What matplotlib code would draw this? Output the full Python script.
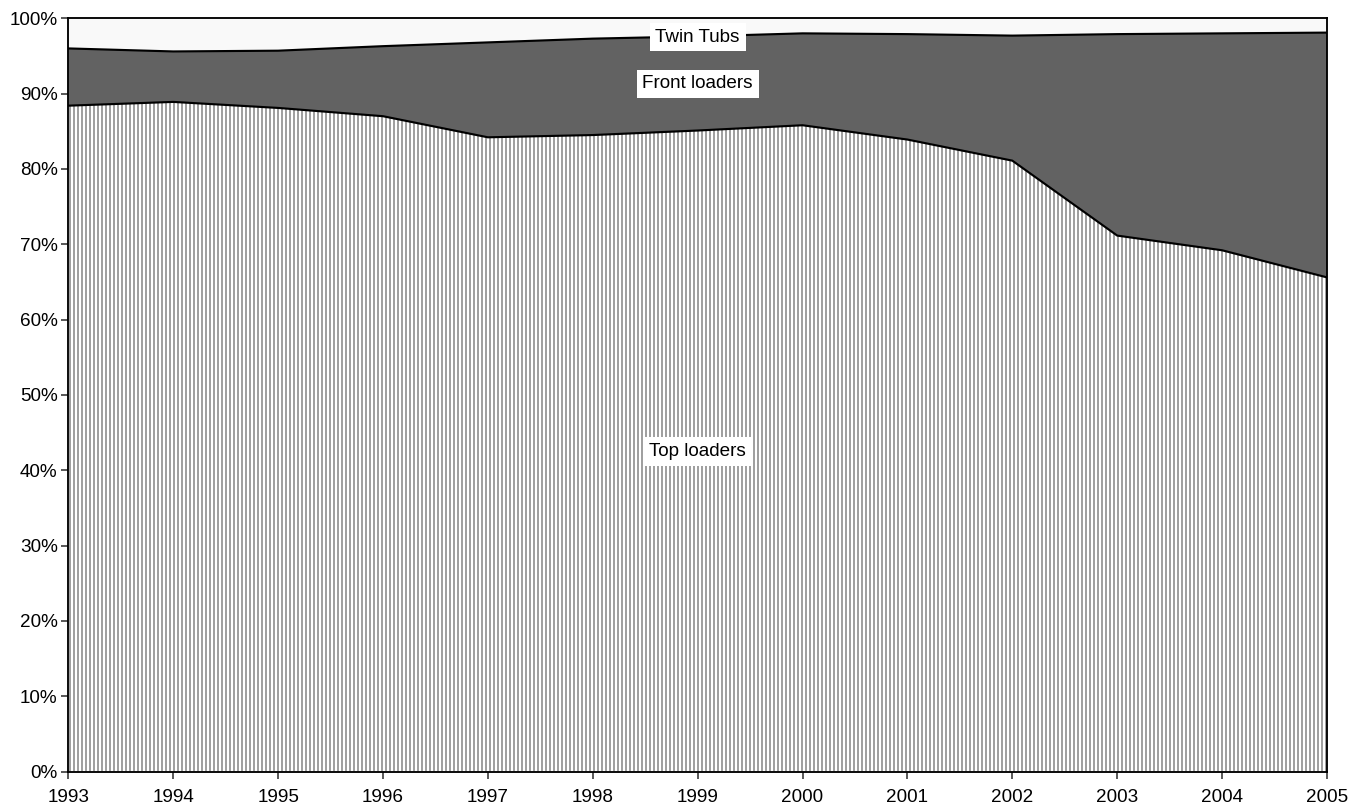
import matplotlib
matplotlib.use("Agg")
import matplotlib.pyplot as plt
from matplotlib.ticker import FuncFormatter

# Market share of washing machine types (%), by year
years = [1993, 1994, 1995, 1996, 1997, 1998, 1999, 2000, 2001, 2002, 2003, 2004, 2005]
top_loaders = [88.4, 88.9, 88.1, 87.0, 84.2, 84.5, 85.1, 85.8, 83.9, 81.1, 71.15, 69.2, 65.6]
front_loaders = [7.6, 6.7, 7.6, 9.3, 12.6, 12.8, 12.5, 12.2, 14.0, 16.6, 26.75, 28.8, 32.5]
twin_tubs = [4.0, 4.4, 4.3, 3.7, 3.2, 2.7, 2.4, 2.0, 2.1, 2.3, 2.1, 2.0, 1.9]

series_names = ["Top loaders", "Front loaders", "Twin Tubs"]
y_ticks = list(range(0, 101, 10))

DPI = 96
FS = 14.2
plt.rcParams["font.family"] = ["Liberation Sans", "DejaVu Sans"]
plt.rcParams["font.size"] = FS
plt.rcParams["hatch.linewidth"] = 1.5

fig = plt.figure(figsize=(1358 / DPI, 808 / DPI), dpi=DPI)
ax = fig.add_axes([68.3 / 1358, 1 - 771.5 / 808, (1327 - 68.3) / 1358, (771.5 - 18.3) / 808])

lower1 = [0.0] * len(years)
upper1 = top_loaders
upper2 = [a + b for a, b in zip(top_loaders, front_loaders)]
upper3 = [a + b for a, b in zip(upper2, twin_tubs)]

# Top loaders: white with grey vertical stripes
ax.fill_between(years, lower1, upper1, facecolor="white", edgecolor="#a0a0a0",
                linewidth=0, hatch="||||", zorder=1)
# Front loaders: dark grey
ax.fill_between(years, upper1, upper2, facecolor="#626262", linewidth=0, zorder=1)
# Twin tubs: near white
ax.fill_between(years, upper2, upper3, facecolor="#f9f9f9", linewidth=0, zorder=1)

# Boundaries between the layers
ax.plot(years, upper1, color="black", linewidth=1.6, zorder=3, solid_joinstyle="miter")
ax.plot(years, upper2, color="black", linewidth=1.6, zorder=3, solid_joinstyle="miter")

ax.set_xlim(years[0], years[-1])
ax.set_ylim(0, 100)
ax.set_xticks(years)
ax.set_yticks(y_ticks)
ax.yaxis.set_major_formatter(FuncFormatter(lambda v, _: f"{v:.0f}%"))
ax.tick_params(axis="both", direction="out", length=5, width=1.2, color="#333333",
               labelsize=FS, labelcolor="black")
ax.tick_params(axis="x", pad=8)
ax.tick_params(axis="y", pad=3)
for sp in ax.spines.values():
    sp.set_color("black")
    sp.set_linewidth(1.4)
    sp.set_zorder(4)

# Series labels
label_box = dict(facecolor="white", edgecolor="none", boxstyle="square,pad=0.3")
ax.text(1999, 97.5, series_names[2], ha="center", va="center", fontsize=FS,
        bbox=label_box, zorder=5)
ax.text(1999, 91.3, series_names[1], ha="center", va="center", fontsize=FS,
        bbox=label_box, zorder=5)
ax.text(1999, 42.5, series_names[0], ha="center", va="center", fontsize=FS,
        bbox=label_box, zorder=5)

fig.savefig("out.png", dpi=DPI)
